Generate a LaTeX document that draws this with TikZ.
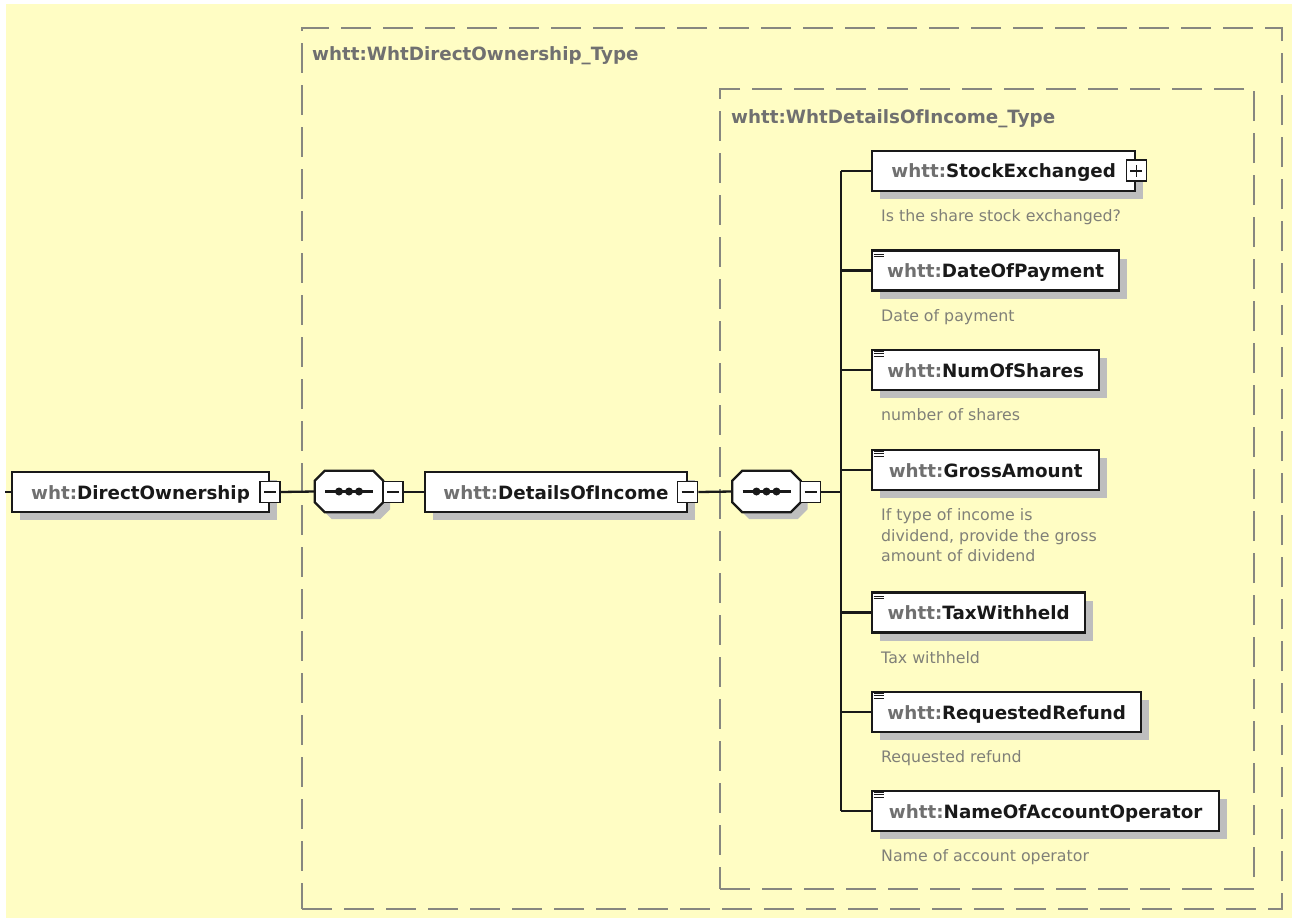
\documentclass[tikz,border=0pt]{standalone}
\usepackage{fontspec}
\setmainfont{DejaVu Sans}
\usetikzlibrary{shadows,calc}
\definecolor{bgy}{RGB}{255,253,196}
\definecolor{dashg}{RGB}{135,135,128}
\definecolor{pfx}{RGB}{112,112,112}
\definecolor{descg}{RGB}{128,128,120}
\definecolor{shad}{RGB}{190,190,190}
\definecolor{ink}{RGB}{25,25,25}
\newcommand{\lblsize}{\fontsize{18.3}{22}\selectfont\bfseries}
\newcommand{\descsize}{\fontsize{15.8}{20.5}\selectfont}
\newcommand{\octpath}[3]{($(#1.north west)+(10+#2,#3)$) -- ($(#1.north east)+(-10+#2,#3)$) -- ($(#1.north east)+(#2,10+#3)$) -- ($(#1.south east)+(#2,-10+#3)$) -- ($(#1.south east)+(-10+#2,#3)$) -- ($(#1.south west)+(10+#2,#3)$) -- ($(#1.south west)+(#2,-10+#3)$) -- ($(#1.north west)+(#2,10+#3)$) -- cycle}
\begin{document}
\begin{tikzpicture}[x=1pt,y=-1pt,
  elem/.style={draw=ink, line width=2.3pt, fill=white, minimum height=40, inner xsep=0, inner ysep=0,
    text height=15, text depth=1, font=\lblsize, text=ink,
    drop shadow={shadow xshift=8pt, shadow yshift=-8pt, fill=shad, opacity=1}},
  btn/.style={draw=ink, line width=1.6pt, fill=white, minimum width=20, minimum height=21, inner sep=0},
  minusbtn/.style={btn, path picture={\draw[ink,line width=1.6pt] ([xshift=-6pt]path picture bounding box.center) -- ([xshift=6pt]path picture bounding box.center);}},
  plusbtn/.style={btn, path picture={\draw[ink,line width=1.6pt] ([xshift=-6pt]path picture bounding box.center) -- ([xshift=6pt]path picture bounding box.center) ([yshift=-6pt]path picture bounding box.center) -- ([yshift=6pt]path picture bounding box.center);}},
  seqnode/.style={minimum width=68, minimum height=41, inner sep=0},
  cont/.style={draw=dashg, line width=2pt, dash pattern=on 30pt off 12pt, anchor=north west, inner sep=0},
  conttitle/.style={anchor=base west, inner sep=0, font=\lblsize, text=pfx},
  desc/.style={anchor=base west, inner sep=0, font=\descsize, text=descg},
  conn/.style={draw=ink, line width=2.3pt},
]
\useasboundingbox (0,0) rectangle (1292,918);
\fill[white] (0,0) rectangle (1292,918);
\fill[bgy] (6,4) rectangle (1292,918);

% containers
\node[cont, minimum width=980, minimum height=881] (outer) at (301,27) {};
\node[conttitle] (outert) at (312,60) {whtt:WhtDirectOwnership\_Type};
\node[cont, minimum width=534, minimum height=800] (inner) at (719,88) {};
\node[conttitle] (innert) at (731,123) {whtt:WhtDetailsOfIncome\_Type};

% main chain
\coordinate (lead) at (5,492);
\node[elem, minimum width=257] (do) at (140.5,492) {{\color{pfx}wht:}DirectOwnership};
\node[minusbtn] (dom) at (270,492) {};

\node[seqnode] (s1) at (349,491.5) {};
\fill[shad] \octpath{s1}{7}{7};
\draw[ink, line width=2.3pt, fill=white] \octpath{s1}{0}{0};
\draw[ink, line width=2.3pt] ($(s1.center)+(-24,0)$) -- ($(s1.center)+(24,0)$);
\foreach \dx in {-10,0,10} \fill[ink] ($(s1.center)+(\dx,0)$) circle (4);
\node[minusbtn] (s1m) at (393,492) {};

\node[elem, minimum width=262] (dinc) at (556,492) {{\color{pfx}whtt:}DetailsOfIncome};
\node[minusbtn] (dincm) at (687.5,492) {};

\node[seqnode] (s2) at (766.5,491.5) {};
\fill[shad] \octpath{s2}{7}{7};
\draw[ink, line width=2.3pt, fill=white] \octpath{s2}{0}{0};
\draw[ink, line width=2.3pt] ($(s2.center)+(-24,0)$) -- ($(s2.center)+(24,0)$);
\foreach \dx in {-10,0,10} \fill[ink] ($(s2.center)+(\dx,0)$) circle (4);
\node[minusbtn] (s2m) at (810.5,492) {};

\coordinate (trunk) at (841,492);

\draw[conn] (lead) -- (do.west);
\draw[conn] (dom.east) -- (s1.west);
\draw[conn] (s1m.east) -- (dinc.west);
\draw[conn] (dincm.east) -- (s2.west);
\draw[conn] (s2m.east) -- (trunk);

% children
\node[elem, minimum width=263, anchor=west] (c1) at (871,170.7) {{\color{pfx}whtt:}StockExchanged};
\node[plusbtn] (c1p) at (c1.east) {};
\node[elem, minimum width=247, anchor=west] (c2) at (871,270.5) {{\color{pfx}whtt:}DateOfPayment};
\node[elem, minimum width=227, anchor=west] (c3) at (871,370) {{\color{pfx}whtt:}NumOfShares};
\node[elem, minimum width=227, anchor=west] (c4) at (871,470) {{\color{pfx}whtt:}GrossAmount};
\node[elem, minimum width=213, anchor=west] (c5) at (871,612.5) {{\color{pfx}whtt:}TaxWithheld};
\node[elem, minimum width=269, anchor=west] (c6) at (871,712) {{\color{pfx}whtt:}RequestedRefund};
\node[elem, minimum width=347, anchor=west] (c7) at (871,811) {{\color{pfx}whtt:}NameOfAccountOperator};

% simple-type icons
\foreach \c in {c2,c3,c4,c5,c6,c7} {
  \foreach \dy in {2.5,5,7.5}
    \draw[ink, line width=1.1pt] ($(\c.north west)+(2.5,\dy)$) -- ++(10,0);
}

% connectors to children
\draw[conn] (trunk |- c1.west) -- (trunk |- c7.west);
\foreach \c in {c1,c2,c3,c4,c5,c6,c7}
  \draw[conn] (trunk |- \c.west) -- (\c.west);

% descriptions
\node[desc] (c1d) at (881,221.2) {Is the share stock exchanged?};
\node[desc] (c2d) at (881,321) {Date of payment};
\node[desc] (c3d) at (881,420.5) {number of shares};
\node[desc] (c4d) at (881,520.5) {\vtop{\baselineskip=20.5pt\hbox{If type of income is}\hbox{dividend, provide the gross}\hbox{amount of dividend}}};
\node[desc] (c5d) at (881,663) {Tax withheld};
\node[desc] (c6d) at (881,762.5) {Requested refund};
\node[desc] (c7d) at (881,861.5) {Name of account operator};
\end{tikzpicture}
\end{document}
